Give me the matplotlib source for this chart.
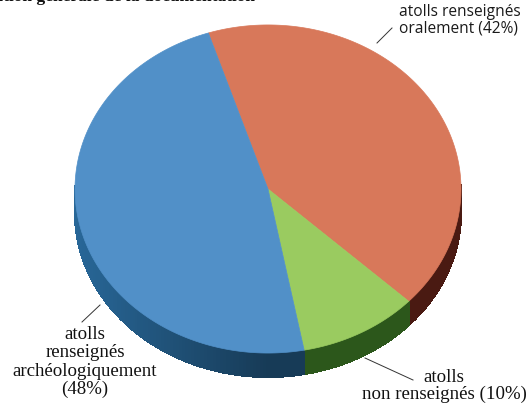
import numpy as np
import matplotlib.pyplot as plt
from matplotlib.collections import PolyCollection
from matplotlib.colors import to_rgb

# slices, clockwise from the top-left edge
labels = ['atolls renseignés\noralement (42%)',
          'atolls\nnon renseignés (10%)',
          'atolls\nrenseignés\narchéologiquement\n(48%)']
shares = [42, 10, 48]

TOP = ['#d8785a', '#9acb60', '#5190c8']
SIDE = ['#4a1a12', '#2c571b', '#173b57']

START = 108.0      # angle of the first edge, degrees
TILT = 0.85        # vertical squash of the disc
DEPTH = 0.124      # thickness of the disc
R_PX = 193.0       # pixels per radius unit
CX, CY = 268.0, 189.0


def px(x, y):
    # figure pixel (from top-left) -> data coords
    return (x - CX) / R_PX, (CY - y) / R_PX


def rim(theta):
    t = np.radians(theta)
    return np.cos(t), TILT * np.sin(t)


fig = plt.figure(figsize=(5.32, 4.08), dpi=100)
ax = fig.add_axes([0, 0, 1, 1])
ax.set_xlim(-CX / R_PX, (532 - CX) / R_PX)
ax.set_ylim(-(408 - CY) / R_PX, CY / R_PX)
ax.axis('off')

frac = np.cumsum([0] + shares) / np.sum(shares)
edges = START - 360 * frac

# side of the disc: one flat piece per slice, then shaded strips on top
for i in range(len(shares)):
    a0, a1 = edges[i + 1], edges[i]
    th = np.linspace(a0, a1, 400)
    th = th[np.sin(np.radians(th)) < 0.01]
    if len(th) < 2:
        continue
    xs, ys = rim(th)
    ax.fill(np.concatenate([xs, xs[::-1]]), np.concatenate([ys, ys[::-1] - DEPTH]),
            color=SIDE[i], lw=0.6, ec=SIDE[i], zorder=1)

polys, cols = [], []
for i in range(len(shares)):
    a0, a1 = edges[i + 1], edges[i]
    th = np.linspace(a0, a1, int(abs(a1 - a0)) + 2)
    base = np.array(to_rgb(SIDE[i]))
    for ta, tb in zip(th[:-1], th[1:]):
        mid = np.radians((ta + tb) / 2)
        if np.sin(mid) >= 0.02:
            continue
        xa, ya = rim(ta)
        xb, yb = rim(tb)
        polys.append([(xa, ya), (xb, yb), (xb, yb - DEPTH), (xa, ya - DEPTH)])
        k = 1 + 0.75 * max(0.0, -np.cos(mid))
        cols.append(np.clip(base * k, 0, 1))
ax.add_collection(PolyCollection(polys, facecolors=cols, edgecolors=cols,
                                 linewidths=0.8, antialiased=False, zorder=2))

# top face
for i in range(len(shares)):
    th = np.linspace(edges[i], edges[i + 1], 200)
    xs, ys = rim(th)
    xs = np.concatenate([[0], xs, [0]])
    ys = np.concatenate([[0], ys, [0]])
    ax.fill(xs, ys, color=TOP[i], ec=TOP[i], lw=0.5, zorder=3)

# labels and leader lines
sans = dict(family='Open Sans', fontsize=11.2, color='#1a1a1a')
serif = dict(family='Liberation Serif', fontsize=13.6, color='#111111')

ax.plot(*zip(px(377, 43), px(392, 28)), color='#333333', lw=0.7)
ax.text(*px(399, 4), labels[0], ha='left', va='top', linespacing=1.05, **sans)

ax.plot(*zip(px(365, 358), px(413, 380)), color='#333333', lw=0.7)
ax.text(*px(444, 369), labels[1], ha='center', va='top', multialignment='center',
        linespacing=0.95, **serif)

ax.plot(*zip(px(100, 305), px(82, 322)), color='#333333', lw=0.7)
ax.text(*px(85, 326), labels[2], ha='center', va='top', multialignment='center',
        linespacing=1.1, **serif)

# heading, mostly cut off by the top edge
fig.text(255 / 532, 1 - 1 / 408, 'Répartition générale de la documentation',
         ha='right', va='baseline', family='Liberation Serif', fontweight='bold',
         fontsize=12.5, color='#111111')

fig.savefig('out.png', dpi=100)
